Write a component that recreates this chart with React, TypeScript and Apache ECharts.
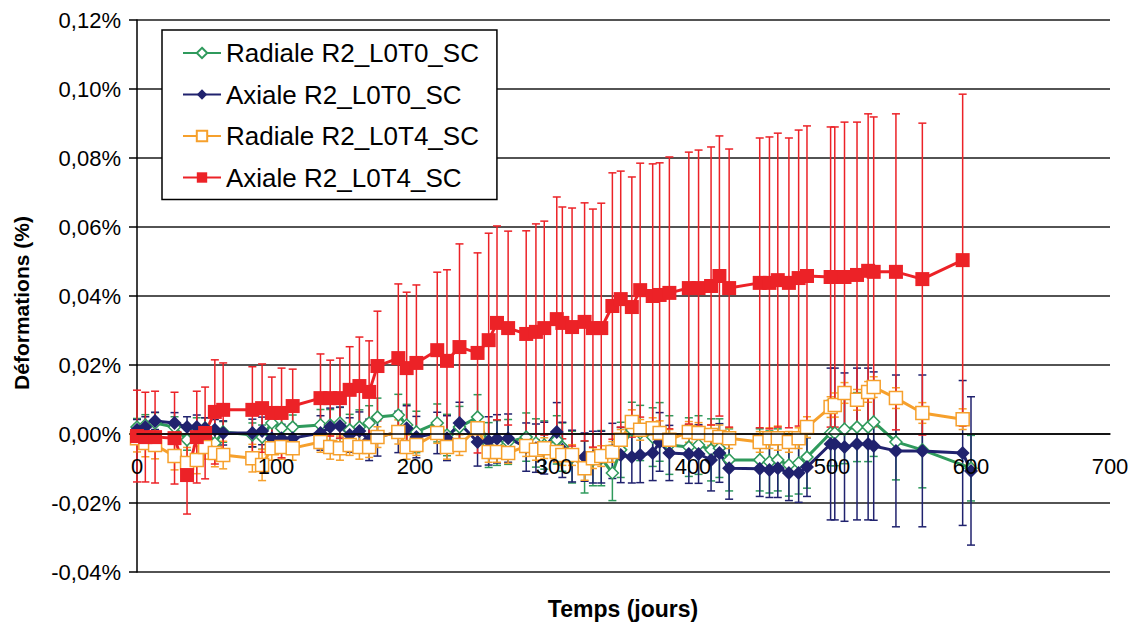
import React, { useEffect, useRef } from "react";
import * as echarts from "echarts";

const days = [0,6,13,27,36,43,49,56,62,83,90,97,104,112,132,139,146,153,160,167,173,188,194,201,216,223,232,245,253,259,267,280,287,293,302,306,313,322,328,334,342,348,356,362,371,376,383,397,404,413,419,426,448,455,461,469,476,482,499,502,509,518,526,530,546,565,594,600];

const radialL0T0 = [0.0020,0.0026,0.0032,0.0020,-0.0017,0.0012,0.0017,-0.0026,0.0006,
-0.0003,-0.0009,0.0032,0.0017,0.0020,
0.0026,0.0026,0.0032,0.0012,0.0020,0.0032,0.0049,
0.0055,0.0026,0.0006,
0.0032,-0.0003,0.0020,
0.0049,-0.0032,-0.0026,-0.0023,
-0.0009,-0.0026,-0.0032,
-0.0017,-0.0038,-0.0067,
-0.0096,-0.0075,-0.0070,
-0.0113,-0.0046,0.0012,0.0003,
-0.0009,0.0006,-0.0032,
-0.0038,-0.0032,-0.0046,-0.0041,-0.0075,
-0.0075,-0.0081,-0.0075,-0.0090,-0.0084,-0.0067,
0.0003,0.0003,0.0014,0.0020,0.0020,0.0035,
-0.0023,-0.0046,null,-0.0099];

const radialL0T0Err = [0.0025,0.003,0.003,0.003,0.003,0.0035,0.003,0.003,0.003,
0.0035,0.0035,0.004,0.0035,0.0035,
0.0045,0.0045,0.0045,0.0045,0.005,0.005,0.0055,
0.006,0.006,0.006,
0.0055,0.006,0.006,
0.0065,0.0065,0.0065,0.0065,
0.007,0.007,0.007,
0.007,0.007,0.0075,
0.0075,0.0075,0.008,
0.008,0.008,0.008,0.008,
0.0085,0.0085,0.0085,
0.0085,0.0085,0.009,0.0085,0.009,
0.009,0.009,0.009,0.009,0.009,0.009,
0.0095,0.0095,0.01,0.01,0.01,0.01,
0.011,0.011,null,0.0095];

const axialL0T0 = [0.0012,0.0020,0.0038,0.0032,0.0020,0.0020,0.0017,0.0012,0.0003,
0.0003,0.0009,-0.0012,-0.0012,-0.0012,
0.0003,0.0020,0.0023,-0.0003,0.0009,-0.0017,-0.0009,
0.0006,0.0017,-0.0009,
0.0003,-0.0012,0.0032,
-0.0023,-0.0020,-0.0014,-0.0012,
-0.0038,-0.0041,-0.0041,
0.0006,-0.0046,-0.0064,
-0.0067,-0.0067,-0.0067,
-0.0049,-0.0061,-0.0067,-0.0061,
-0.0055,-0.0023,-0.0055,
-0.0058,-0.0058,-0.0075,-0.0055,-0.0099,
-0.0101,-0.0104,-0.0099,-0.0113,-0.0113,-0.0096,
-0.0029,-0.0029,-0.0038,-0.0029,-0.0029,-0.0035,
-0.0049,-0.0049,-0.0055,-0.0107];

const axialL0T0Err = [0.003,0.003,0.0025,0.003,0.003,0.0035,0.003,0.003,0.0035,
0.004,0.004,0.0045,0.004,0.004,
0.005,0.0055,0.0055,0.005,0.0055,0.006,0.0055,
0.006,0.0065,0.006,
0.006,0.0065,0.006,
0.007,0.007,0.007,0.007,
0.007,0.007,0.0075,
0.0085,0.008,0.0075,
0.007,0.0075,0.0075,
0.008,0.008,0.0075,0.008,
0.008,0.0085,0.008,
0.0085,0.0085,0.009,0.0085,0.009,
0.008,0.008,0.0085,0.008,0.0085,0.0085,
0.022,0.022,0.0215,0.022,0.022,0.0215,
0.022,0.022,0.021,0.0215];

const radialL0T4 = [-0.0012,-0.0026,-0.0032,-0.0064,-0.0084,-0.0075,-0.0038,-0.0055,-0.0061,
-0.0070,-0.0090,-0.0041,-0.0038,-0.0041,
-0.0023,-0.0038,-0.0041,-0.0032,-0.0038,-0.0038,-0.0009,
0.0006,-0.0038,-0.0032,
0.0003,-0.0038,-0.0032,
0.0017,-0.0052,-0.0052,-0.0055,
-0.0035,-0.0046,-0.0041,
-0.0052,-0.0061,-0.0061,
-0.0099,-0.0070,-0.0064,
-0.0052,-0.0017,0.0035,0.0012,
0.0017,0.0003,-0.0017,
0.0006,0.0003,-0.0003,-0.0009,-0.0012,
-0.0023,-0.0012,-0.0012,-0.0023,-0.0012,0.0020,
0.0078,0.0084,0.0119,0.0099,0.0122,0.0136,
0.0104,0.0061,0.0043,null];

const radialL0T4Err = [0.004,0.004,0.004,0.004,0.0045,0.004,0.0035,0.004,0.004,
0.004,0.0045,0.0035,0.0035,0.0035,
0.003,0.0035,0.0035,0.003,0.0035,0.003,0.003,
0.0035,0.0035,0.003,
0.003,0.0035,0.003,
0.003,0.003,0.003,0.003,
0.003,0.003,0.003,
0.003,0.003,0.003,
0.0035,0.003,0.003,
0.003,0.003,0.0035,0.003,
0.003,0.0035,0.003,
0.003,0.003,0.003,0.0035,0.003,
0.003,0.003,0.0035,0.003,0.003,0.003,
0.003,0.0035,0.003,0.003,0.003,0.003,
0.003,0.003,0.003,null];

const axialL0T4 = [-0.0006,-0.0009,-0.0009,-0.0012,-0.0119,-0.0009,0.0003,0.0064,0.0070,
0.0070,0.0075,0.0061,0.0061,0.0081,
0.0104,0.0104,0.0104,0.0128,0.0139,0.0122,0.0197,
0.0220,0.0191,0.0206,
0.0243,0.0212,0.0252,
0.0235,0.0272,0.0322,0.0307,
0.0290,0.0296,0.0307,
0.0333,0.0322,0.0310,
0.0325,0.0307,0.0307,
0.0371,0.0391,0.0368,0.0417,
0.0400,0.0403,0.0409,
0.0423,0.0423,0.0429,0.0458,0.0423,
0.0438,0.0438,0.0446,0.0438,0.0452,0.0458,
0.0455,0.0455,0.0455,0.0461,0.0473,0.0470,
0.0470,0.0449,0.0504,null];

const axialL0T4Err = [0.0133,0.0130,0.0133,0.0133,0.0113,0.0133,0.0133,0.0151,0.0136,
0.0125,0.0128,0.0104,0.0130,0.0107,
0.0128,0.0110,0.0116,0.0125,0.0142,0.0148,0.0159,
0.0215,0.0220,0.0226,
0.0226,0.0264,0.0299,
0.0290,0.0310,0.0281,0.0281,
0.0299,0.0313,0.0310,
0.0354,0.0336,0.0345,
0.0345,0.0345,0.0362,
0.0386,0.0371,0.0377,0.0368,
0.0383,0.0383,0.0394,
0.0394,0.0400,0.0403,0.0406,0.0403,
0.0420,0.0423,0.0426,0.0420,0.0429,0.0435,
0.0435,0.0435,0.0449,0.0443,0.0455,0.0449,
0.0458,0.0452,0.0481,null];

const seriesNames = ["Radiale R2_L0T0_SC", "Axiale R2_L0T0_SC", "Radiale R2_L0T4_SC", "Axiale R2_L0T4_SC"];
const yTitle = "Déformations (%)";
const xTitle = "Temps (jours)";

const FONT = "'Liberation Sans', Arial, Helvetica, sans-serif";

function pts(vals: (number | null)[]) {
  return days.map((d, i) => [d, vals[i]]).filter((p) => p[1] !== null);
}
function errPts(vals: (number | null)[], errs: (number | null)[]) {
  return days
    .map((d, i) => [d, vals[i], errs[i]])
    .filter((p) => p[1] !== null && p[2] !== null);
}

function errorSeries(vals: (number | null)[], errs: (number | null)[], color: string) {
  return {
    type: "custom",
    silent: true,
    data: errPts(vals, errs),
    renderItem: (params: any, api: any) => {
      const x = api.value(0);
      const y = api.value(1);
      const e = api.value(2);
      const top = api.coord([x, y + e]);
      const bot = api.coord([x, y - e]);
      const hw = 4;
      const style = { stroke: color, lineWidth: 1.5 };
      return {
        type: "group",
        children: [
          { type: "line", shape: { x1: top[0], y1: top[1], x2: bot[0], y2: bot[1] }, style },
          { type: "line", shape: { x1: top[0] - hw, y1: top[1], x2: top[0] + hw, y2: top[1] }, style },
          { type: "line", shape: { x1: bot[0] - hw, y1: bot[1], x2: bot[0] + hw, y2: bot[1] }, style },
        ],
      };
    },
  };
}

const GREEN = "#2f9a5c";
const NAVY = "#20226e";
const ORANGE = "#f6a02c";
const RED = "#ec2227";

export default function App() {
  const ref = useRef<HTMLDivElement>(null);
  useEffect(() => {
    if (!ref.current) return;
    const chart = echarts.init(ref.current, undefined, { renderer: "svg" });
    const lineBase = (name: string, vals: (number | null)[], color: string, symbol: string, hollow: boolean, size: number) => ({
      type: "line",
      name,
      data: pts(vals),
      symbol,
      symbolSize: size,
      showSymbol: true,
      lineStyle: { color, width: 3 },
      itemStyle: hollow
        ? { color: "#ffffff", borderColor: color, borderWidth: 1.5 }
        : { color, borderColor: color, borderWidth: 0 },
      emphasis: { disabled: true },
    });
    chart.setOption({
      animation: false,
      backgroundColor: "#ffffff",
      grid: { left: 137, top: 20, right: 25, bottom: 54, containLabel: false },
      xAxis: {
        type: "value",
        min: 0,
        max: 700,
        interval: 100,
        position: "bottom",
        offset: -138,
        z: 5,
        axisLine: { onZero: false, lineStyle: { color: "#000", width: 1.5 } },
        axisTick: { show: false },
        splitLine: { show: false },
        axisLabel: { color: "#000", fontSize: 22, fontFamily: FONT, margin: 21 },
      },
      yAxis: {
        type: "value",
        min: -0.04,
        max: 0.12,
        interval: 0.02,
        axisLine: { show: true, onZero: false, lineStyle: { color: "#000", width: 1.5 } },
        axisTick: { show: true, length: 8, lineStyle: { color: "#000", width: 1.5 } },
        splitLine: { show: true, lineStyle: { color: "#1a1a1a", width: 1.5 } },
        axisLabel: {
          color: "#000",
          fontSize: 22,
          fontFamily: FONT,
          margin: 16,
          formatter: (v: number) => v.toFixed(2).replace(".", ",").replace("-0,00", "0,00") + "%",
        },
      },
      legend: {
        data: seriesNames,
        orient: "vertical",
        left: 162,
        top: 30,
        z: 10,
        backgroundColor: "#ffffff",
        borderColor: "#000",
        borderWidth: 1.5,
        borderRadius: 0,
        padding: [10, 18, 9, 20],
        itemGap: 15.5,
        itemWidth: 38,
        itemHeight: 13,
        textStyle: { color: "#000", fontSize: 26, fontFamily: FONT, lineHeight: 25 },
        selectedMode: false,
      },
      graphic: [
        {
          type: "text",
          x: 21,
          y: 303,
          rotation: Math.PI / 2,
          style: {
            text: yTitle,
            fill: "#000",
            font: `bold 21px ${FONT}`,
            textAlign: "center",
            textVerticalAlign: "middle",
          },
        },
        {
          type: "text",
          x: 623,
          y: 609,
          style: {
            text: xTitle,
            fill: "#000",
            font: `bold 23px ${FONT}`,
            textAlign: "center",
            textVerticalAlign: "middle",
          },
        },
      ],
      series: [
        errorSeries(radialL0T0, radialL0T0Err, GREEN),
        lineBase(seriesNames[0], radialL0T0, GREEN, "diamond", true, 12),
        errorSeries(axialL0T0, axialL0T0Err, NAVY),
        lineBase(seriesNames[1], axialL0T0, NAVY, "diamond", false, 14),
        errorSeries(radialL0T4, radialL0T4Err, ORANGE),
        lineBase(seriesNames[2], radialL0T4, ORANGE, "rect", true, 13),
        errorSeries(axialL0T4, axialL0T4Err, RED),
        lineBase(seriesNames[3], axialL0T4, RED, "rect", false, 14),
      ],
    });
    return () => chart.dispose();
  }, []);
  return <div ref={ref} style={{ position: "fixed", left: 0, top: 0, width: 1135, height: 626 }} />;
}
